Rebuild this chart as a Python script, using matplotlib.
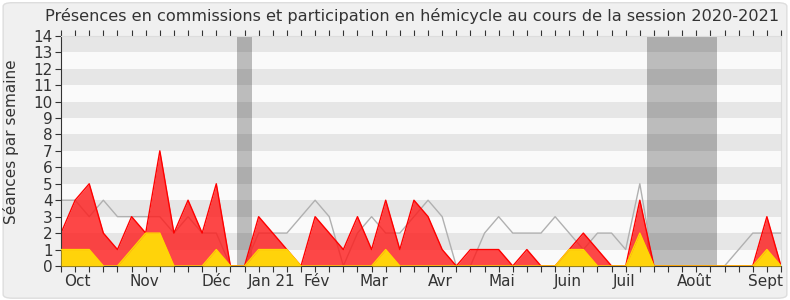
import matplotlib
matplotlib.use("Agg")
import matplotlib.pyplot as plt
from matplotlib.patches import FancyBboxPatch
import numpy as np

plt.rcParams['font.family'] = ['DejaVu Sans']

weeks = list(range(52))
hemicycle = [2, 4, 5, 2, 1, 3, 2, 7, 2, 4, 2, 5, 0,
             0, 3, 2, 1, 0, 3, 2, 1, 3, 1, 4, 1, 4, 3,
             1, 0, 1, 1, 1, 0, 1, 0, 0, 1, 2, 1, 0,
             0, 4, 0, 0, 0, 0, 0, 0, 0, 0, 3, 0]
commissions = [1, 1, 1, 0, 0, 1, 2, 2, 0, 0, 0, 1, 0,
               0, 1, 1, 1, 0, 0, 0, 0, 0, 0, 1, 0, 0, 0,
               0, 0, 0, 0, 0, 0, 0, 0, 0, 1, 1, 0, 0,
               0, 2, 0, 0, 0, 0, 0, 0, 0, 0, 1, 0]
median_line = [4, 4, 3, 4, 3, 3, 3, 3, 2, 3, 2, 2, 0,
               0, 2, 2, 2, 3, 4, 3, 0, 2, 3, 2, 2, 3, 4,
               3, 0, 0, 2, 3, 2, 2, 2, 3, 2, 1, 2, 2, 1,
               5, 0, 0, 0, 0, 0, 0, 1, 2, 2, 2]
vacances = [(12.5, 13.5), (41.5, 46.5)]
month_labels = ["Oct", "Nov", "Déc", "Jan 21", "Fév", "Mar", "Avr", "Mai", "Juin", "Juil", "Août", "Sept"]
month_pos = [1.14, 5.9, 11.0, 14.9, 18.1, 22.2, 26.9, 31.2, 35.9, 39.9, 44.9, 49.9]
title = "Présences en commissions et participation en hémicycle au cours de la session 2020-2021"
ylabel = "Séances par semaine"

fig = plt.figure(figsize=(7.9, 3.0), dpi=100)
fig.patch.set_facecolor('white')
fig.patches.append(FancyBboxPatch((0.004, 0.006), 0.992, 0.985, boxstyle="round,pad=0,rounding_size=0.012",
                                  transform=fig.transFigure, facecolor='#f0f0f0', edgecolor='#dddddd',
                                  linewidth=1, zorder=-10))

ax = fig.add_axes([61/790, 1-266/300, (781-61)/790, (266-35.7)/300])
ax.set_facecolor('#fafafa')
ax.set_xlim(0, 51)
ax.set_ylim(0, 14)

for a, b in vacances:
    ax.axvspan(a, b, color='#bcbcbc', zorder=0.5, lw=0)
for k in range(1, 14, 2):
    ax.axhspan(k, k + 1, color='black', alpha=0.08, zorder=0.6, lw=0)

ax.plot(weeks, median_line, color='#b0b0b0', lw=1, zorder=1)
ax.fill_between(weeks, hemicycle, 0, color='#ff1a1a', alpha=0.8, lw=0, zorder=2)
ax.plot(weeks, hemicycle, color='#ff0000', lw=1, zorder=2.1)
ax.fill_between(weeks, commissions, 0, color='#ffd30a', lw=0, zorder=3)
ax.plot(weeks, commissions, color='#ffd700', lw=1, zorder=3.1)

ax.set_yticks(range(15))
ax.set_yticklabels([str(v) for v in range(15)], fontsize=11, color='#333333')
ax.set_xticks(weeks)
ax.set_xticklabels([])
ax.tick_params(axis='x', which='major', length=4, width=0.8, color='#333333', top=True)
ax.tick_params(axis='y', length=4, width=0.8, color='#333333', pad=2)
for lab, p in zip(month_labels, month_pos):
    ax.text(p, -0.5, lab, ha='center', va='top', fontsize=11, color='#333333')

for s in ['top', 'right']:
    ax.spines[s].set_color('#dddddd')
ax.spines['left'].set_color('#333333')
ax.spines['bottom'].set_color('#333333')

ax.set_ylabel(ylabel, fontsize=11, color='#333333')
ax.yaxis.set_label_coords(-0.058, 0.54)
fig.text(412/790, 0.947, title, ha='center', va='center', fontsize=11.6, color='#333333')

fig.savefig('out.png', dpi=100, facecolor=fig.get_facecolor())
